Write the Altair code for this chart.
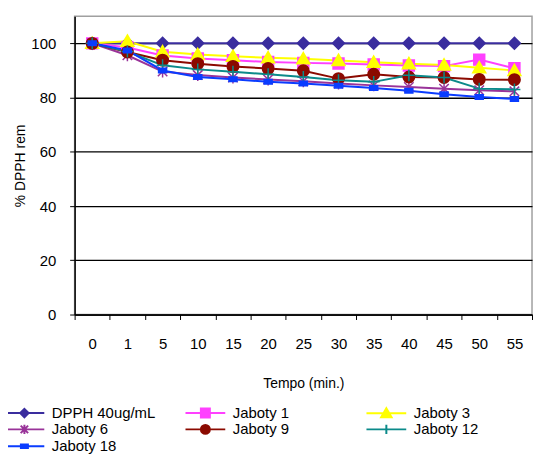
import altair as alt
import pandas as pd

times = ["0", "1", "5", "10", "15", "20", "25", "30", "35", "40", "45", "50", "55"]
series_names = ["DPPH 40ug/mL", "Jaboty 1", "Jaboty 3", "Jaboty 6", "Jaboty 9", "Jaboty 12", "Jaboty 18"]

dpph = [100, 100, 100, 100, 100, 100, 100, 100, 100, 100, 100, 100, 100]
jaboty1 = [100, 98.5, 95.5, 94.4, 93.8, 93.1, 92.8, 92.6, 92.2, 91.8, 91.6, 94.0, 90.8]
jaboty3 = [100, 100.8, 96.9, 95.9, 95.2, 94.7, 94.3, 93.7, 93.0, 92.5, 92.0, 91.0, 90.0]
jaboty6 = [100, 95.6, 89.6, 88.3, 87.4, 86.7, 86.0, 85.2, 84.5, 83.9, 83.3, 82.7, 82.3]
jaboty9 = [100, 96.8, 93.8, 92.5, 91.5, 90.7, 89.9, 87.0, 88.6, 87.6, 87.4, 86.7, 86.6]
jaboty12 = [100, 97.0, 91.9, 90.4, 89.5, 88.6, 87.6, 86.4, 85.8, 88.2, 87.4, 83.3, 83.0]
jaboty18 = [100, 97.4, 90.0, 87.6, 86.8, 85.8, 85.2, 84.4, 83.5, 82.5, 81.2, 80.2, 79.5]

colors = ["#3a2d9e", "#ff40ff", "#ffff00", "#993399", "#8b0a00", "#0b8a8a", "#0a3cff"]

plot_shapes = [
    "M0,-1.2L1.2,0L0,1.2L-1.2,0Z",
    "M-1.1,-1.1H1.1V1.1H-1.1Z",
    "M0,-1.25L1.3,1L-1.3,1Z",
    "M-0.95,-0.95L0.95,0.95M-0.95,0.95L0.95,-0.95M0,-1.2V1.2",
    "M-1.15,0A1.15,1.15,0,1,1,1.15,0A1.15,1.15,0,1,1,-1.15,0Z",
    "M-1.2,0H1.2M0,-1.2V1.2",
    "M-0.8,-0.45H0.8V0.45H-0.8Z",
]
LINE = "M-4,0H4"
legend_shapes = [
    LINE + "M0,-0.85L0.85,0L0,0.85L-0.85,0Z",
    LINE + "M-0.9,-0.9H0.9V0.9H-0.9Z",
    LINE + "M0,-1L1.05,0.8L-1.05,0.8Z",
    LINE + "M-0.75,-0.75L0.75,0.75M-0.75,0.75L0.75,-0.75M0,-0.95V0.95",
    LINE + "M-0.9,0A0.9,0.9,0,1,1,0.9,0A0.9,0.9,0,1,1,-0.9,0Z",
    LINE + "M0,-0.95V0.95",
    LINE + "M-0.7,-0.35H0.7V0.35H-0.7Z",
]

values = [dpph, jaboty1, jaboty3, jaboty6, jaboty9, jaboty12, jaboty18]
rows = []
for name, vals in zip(series_names, values):
    for t, v in zip(times, vals):
        rows.append({"tempo": t, "value": v, "series": name})
df = pd.DataFrame(rows)

FONT = "Liberation Sans"

x_enc = alt.X(
    "tempo:N",
    sort=times,
    scale=alt.Scale(paddingInner=0, paddingOuter=0),
    axis=alt.Axis(
        title="Tempo (min.)",
        labelAngle=0,
        tickBand="extent",
        tickSize=5,
        labelPadding=17,
        titlePadding=25,
        domainColor="black",
        domainWidth=1.5,
        tickColor="black",
        labelFontSize=15,
        titleFontSize=14,
        titleFontWeight="normal",
        labelFont=FONT,
        titleFont=FONT,
        labelColor="black",
        titleColor="black",
        grid=False,
    ),
)
y_enc = alt.Y(
    "value:Q",
    scale=alt.Scale(domain=[0, 110], nice=False),
    axis=alt.Axis(
        title="% DPPH rem",
        values=[0, 20, 40, 60, 80, 100],
        tickSize=5,
        labelPadding=14,
        titlePadding=3,
        domainColor="black",
        domainWidth=1.5,
        tickColor="black",
        gridColor="black",
        gridWidth=1.3,
        labelFontSize=15,
        titleFontSize=14,
        titleFontWeight="normal",
        labelFont=FONT,
        titleFont=FONT,
        labelColor="black",
        titleColor="black",
    ),
)

color_scale = alt.Scale(domain=series_names, range=colors)

lines = alt.Chart(df).mark_line(strokeWidth=2).encode(
    x=x_enc,
    y=y_enc,
    color=alt.Color("series:N", scale=color_scale, legend=None),
    detail="series:N",
)

points = alt.Chart(df).mark_point(filled=True, size=100, strokeWidth=1.5, opacity=1).encode(
    x=x_enc,
    y=y_enc,
    color=alt.Color("series:N", scale=color_scale, legend=None),
    stroke=alt.Stroke("series:N", scale=color_scale, legend=None),
    shape=alt.Shape("series:N", scale=alt.Scale(domain=series_names, range=plot_shapes), legend=None),
)

leg = alt.Legend(
    title=None,
    orient="none",
    direction="horizontal",
    legendX=-58,
    legendY=391,
    columns=3,
    gridAlign="all",
    columnPadding=25,
    rowPadding=-2,
    symbolSize=100,
    symbolStrokeWidth=2,
    symbolOpacity=1,
    labelOffset=20,
    labelFont=FONT,
    labelFontSize=15,
    labelColor="black",
    labelLimit=300,
)

legend_layer = alt.Chart(df).mark_point(filled=True, size=100, opacity=0).encode(
    x=x_enc,
    y=y_enc,
    color=alt.Color("series:N", scale=color_scale, legend=leg),
    stroke=alt.Stroke("series:N", scale=color_scale, legend=leg),
    shape=alt.Shape("series:N", scale=alt.Scale(domain=series_names, range=legend_shapes), legend=leg),
)

chart = (
    alt.layer(lines, points, legend_layer)
    .resolve_scale(color="independent", stroke="independent", shape="independent")
    .properties(width=460, height=300, padding={"top": 7, "left": 5, "right": 0, "bottom": 0})
    .configure_view(stroke="#a0a0a0", strokeWidth=1.5)
)

chart.save("out.html", embed_options={"renderer": "svg", "actions": False})
